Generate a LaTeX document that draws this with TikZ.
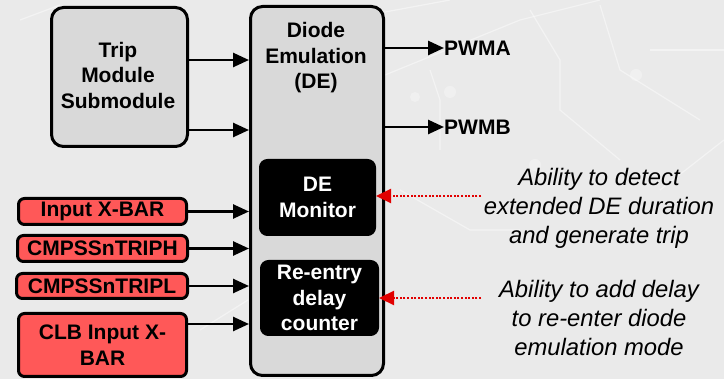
\documentclass[tikz,border=0pt]{standalone}
\usepackage{fontspec}
\setmainfont{Liberation Sans}
\usetikzlibrary{arrows.meta}
\definecolor{bgcol}{RGB}{234,234,234}
\definecolor{boxgray}{RGB}{217,217,217}
\definecolor{inred}{RGB}{255,88,88}
\definecolor{dotred}{RGB}{225,0,0}
\tikzset{
  graybox/.style={draw=black, line width=3pt, fill=boxgray, rounded corners=12pt},
  blackbox/.style={draw=black, line width=1pt, fill=black, rounded corners=8pt,
    text=white, font=\fontsize{21}{25.5}\selectfont\bfseries, align=center},
  redbox/.style={draw=black, line width=3pt, fill=inred, rounded corners=6pt,
    font=\fontsize{21}{25.5}\selectfont\bfseries, align=center, inner sep=0pt},
  sig/.style={line width=2.6pt, -{Triangle[length=16pt,width=14pt]}},
  note/.style={line width=2.2pt, dotred, dash pattern=on 2pt off 1.6pt,
    -{Triangle[length=15pt,width=14pt]}},
  lbl/.style={font=\fontsize{21}{25.5}\selectfont\bfseries, align=center},
  notetxt/.style={font=\fontsize{23.8}{29}\selectfont\itshape, align=center},
  trace/.style={draw=white, line width=1.2pt, opacity=0.45},
}
\begin{document}
\begin{tikzpicture}[x=1pt, y=-1pt]
  % backdrop with faint circuit traces
  \fill[bgcol] (0,0) rectangle (724,379);
  \useasboundingbox (0,0) rectangle (724,379);
  \draw[trace] (385,12) -- (450,0);
  \draw[trace] (385,75) -- (520,20) -- (600,0);
  \draw[trace] (530,10) -- (560,60) -- (560,110) -- (620,160);
  \draw[trace] (600,5) -- (620,70) -- (700,120);
  \draw[trace] (650,50) -- (724,50);
  \draw[trace] (430,70) -- (440,100) -- (440,150);
  \draw[trace] (20,20) -- (60,5);
  \draw[trace] (200,330) -- (248,300);
  \draw[trace] (400,190) -- (470,230) -- (520,230);
  \draw[trace] (660,190) -- (724,140);
  \fill[white, opacity=0.3] (450,92) circle (6);
  \fill[white, opacity=0.3] (636,75) circle (6);
  \fill[white, opacity=0.3] (415,97) circle (5);
  \fill[white, opacity=0.3] (535,165) circle (6);

  % main diode emulation block
  \node[graybox, minimum width=133pt, minimum height=369pt, anchor=north west]
    (de) at (249,5) {};
  \node[lbl] (detitle) at (316,58) {Diode\\Emulation\\(DE)};

  % trip module
  \node[graybox, minimum width=136pt, minimum height=139pt, anchor=north west]
    (trip) at (50,6) {};
  \node[lbl] (triptxt) at (118,75) {Trip\\Module\\Submodule};

  % inner blocks
  \node[blackbox, minimum width=116pt, minimum height=76pt, anchor=north west]
    (mon) at (259,159) {DE\\Monitor};
  \node[blackbox, minimum width=118pt, minimum height=75pt, anchor=north west]
    (reentry) at (260,260) {Re-entry\\delay\\counter};

  % input sources
  \node[redbox, minimum width=168pt, minimum height=26pt, anchor=north west]
    (ixbar) at (17,197) {Input X-BAR};
  \node[redbox, minimum width=170pt, minimum height=26pt, anchor=north west]
    (triph) at (16,234) {CMPSSnTRIPH};
  \node[redbox, minimum width=171pt, minimum height=25pt, anchor=north west]
    (tripl) at (15,272) {CMPSSnTRIPL};
  \node[redbox, minimum width=168pt, minimum height=63pt, anchor=north west]
    (clb) at (17,312) {CLB Input X-\\BAR};

  % outputs
  \node[lbl, anchor=west, inner sep=0pt] (pwma) at (444,48) {PWMA};
  \node[lbl, anchor=west, inner sep=0pt] (pwmb) at (444,127) {PWMB};

  % annotations
  \node[notetxt] (n1) at (599,208) {Ability to detect\\extended DE duration\\and generate trip};
  \node[notetxt] (n2) at (599,318) {Ability to add delay\\to re-enter diode\\emulation mode};
  \coordinate (n1s) at (481,196);
  \coordinate (n2s) at (481,298);

  % connections
  \draw[sig] (trip.east |- 0,60) -- (de.west |- 0,60);
  \draw[sig] (trip.east |- 0,130) -- (de.west |- 0,130);
  \draw[sig] (ixbar.east) -- (de.west |- ixbar.east);
  \draw[sig] (triph.east) -- (de.west |- triph.east);
  \draw[sig] (tripl.east) -- (de.west |- tripl.east);
  \draw[sig] (clb.east |- 0,324) -- (de.west |- 0,324);
  \draw[sig] (de.east |- pwma.west) -- (pwma.west);
  \draw[sig] (de.east |- pwmb.west) -- (pwmb.west);
  \draw[note] (n1s) -- (mon.east |- n1s);
  \draw[note] (n2s) -- (reentry.east |- n2s);
\end{tikzpicture}
\end{document}
